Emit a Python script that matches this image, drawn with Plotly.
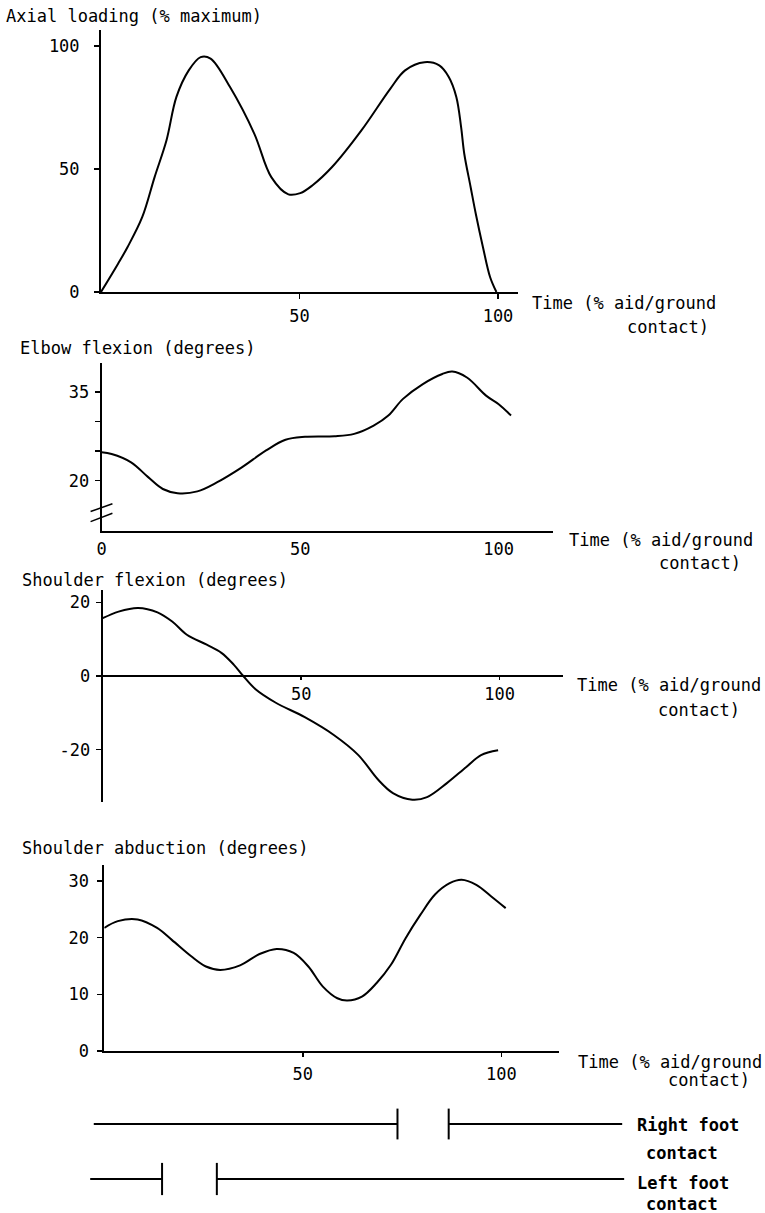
import plotly.graph_objects as go

W, H = 765, 1213

# ---------------- data ----------------
axial_t = [0, 4.3, 6.7, 10.4, 13.5, 16.5, 19, 22.1, 25.1, 27.6, 32.5, 38.6, 42.9, 47.2, 50.2,
           53.3, 58.2, 65.6, 72.9, 76.6, 81.5, 85.2, 87.6, 89.5, 90.7, 91.5, 93.1, 94.4,
           96.2, 98, 99.6]
axial_v = [0, 11.5, 18.3, 30.5, 46.7, 61.7, 79.3, 90.1, 95.5, 94.9, 83.3, 64.4, 46.7, 39.7,
           40.2, 43.4, 50.8, 65.7, 82.7, 90.1, 93.4, 92.1, 87.4, 79.3, 67.1, 56.2, 42.7, 31.8,
           18.3, 6.1, 0]

elbow_t = [0, 2.5, 7.4, 11.7, 15.4, 19.1, 24.1, 29, 35.2, 41.4, 46.3, 51.2, 58.6, 63.6,
           68.5, 72.2, 75.9, 80.9, 85.8, 88.3, 92, 96.9, 100, 103.1]
elbow_v = [24.8, 24.5, 23.1, 20.6, 18.6, 17.9, 18.2, 19.7, 22.2, 25.1, 26.9, 27.4, 27.5, 27.9,
           29.3, 31, 33.8, 36.3, 38, 38.4, 37.4, 34.3, 32.9, 31]

sflex_t = [0, 4, 8.9, 13.8, 17.5, 21.2, 26.2, 29.9, 33, 35.4, 38.5, 43.5, 50.9, 58.3,
           64.4, 69.4, 73.1, 78, 81.7, 86.7, 91.6, 95.3, 99.6]
sflex_v = [15.7, 17.5, 18.5, 17.3, 14.8, 11.2, 8.5, 6.3, 3.1, 0, -3.6, -7.2, -11.2, -16.1,
           -21.5, -28.2, -31.8, -33.6, -32.9, -29.1, -24.7, -21.5, -20.2]

sabd_t = [0, 3.4, 8.4, 13.3, 17, 21.9, 25.6, 29.2, 34.2, 39.1, 43.4, 47.7, 51.4, 55,
          58.7, 61.2, 64.9, 68.6, 72.2, 75.9, 79.6, 83.3, 87, 90, 93.7, 97.4, 101.1]
sabd_v = [21.7, 22.9, 23.2, 21.7, 19.6, 16.7, 14.9, 14.3, 15.1, 17.1, 18, 17.3, 14.9, 11.4,
          9.3, 8.9, 9.6, 12, 15.2, 19.9, 24, 27.6, 29.6, 30.2, 29.3, 27.3, 25.2]

right_start = [-2.4, 87.0]
right_end = [74.1, 130.7]
left_start = [-3.3, 28.6]
left_end = [14.8, 131.2]

axial_ticks = [0, 50, 100]
elbow_ticks = [20, 25, 30, 35]
elbow_ticktext = ["20", "", "", "35"]
sflex_ticks = [-20, 0, 20]
sflex_ticktext = ["-20", "0", "20"]
sabd_ticks = [0, 10, 20, 30]
time_ticks_a = [50, 100]
time_ticks_b = [0, 50, 100]

# ---------------- layout helpers ----------------
K = 3.97  # px per time unit
FONT = "DejaVu Sans Mono"


def fx(p):
    return p / W


def fy(p):
    return 1 - p / H


def xdom(o, e):
    return [fx(o), fx(e)]


def ydom(top, bottom):
    return [fy(bottom), fy(top)]


fig = go.Figure()

line_style = dict(color="black", width=2)
fig.add_trace(go.Scatter(x=axial_t, y=axial_v, mode="lines", line=line_style,
                         line_shape="spline", xaxis="x", yaxis="y"))
fig.add_trace(go.Scatter(x=elbow_t, y=elbow_v, mode="lines", line=line_style,
                         line_shape="spline", xaxis="x2", yaxis="y2"))
fig.add_trace(go.Scatter(x=sflex_t, y=sflex_v, mode="lines", line=line_style,
                         line_shape="spline", xaxis="x3", yaxis="y3"))
fig.add_trace(go.Scatter(x=sabd_t, y=sabd_v, mode="lines", line=line_style,
                         line_shape="spline", xaxis="x4", yaxis="y4"))


def seg(starts, ends, yv):
    xs, ys = [], []
    for s, e in zip(starts, ends):
        xs += [s, e, None]
        ys += [yv, yv, None]
    return xs, ys


rx, ry = seg(right_start, right_end, 1)
lx, ly = seg(left_start, left_end, 0)
fig.add_trace(go.Scatter(x=rx, y=ry, mode="lines", line=line_style, xaxis="x5", yaxis="y5"))
fig.add_trace(go.Scatter(x=lx, y=ly, mode="lines", line=line_style, xaxis="x5", yaxis="y5"))
fig.add_trace(go.Scatter(x=[right_end[0], right_start[1]], y=[1, 1], mode="markers",
                         marker=dict(symbol="line-ns", size=22,
                                     line=dict(color="black", width=2)),
                         xaxis="x5", yaxis="y5"))
fig.add_trace(go.Scatter(x=[left_end[0], left_start[1]], y=[0, 0], mode="markers",
                         marker=dict(symbol="line-ns", size=23,
                                     line=dict(color="black", width=2)),
                         xaxis="x5", yaxis="y5"))

tickfont = dict(family=FONT, size=17, color="black")
common_ax = dict(showline=True, linecolor="black", linewidth=2, showgrid=False,
                 zeroline=False, ticks="outside", tickcolor="black", tickwidth=1.5,
                 tickfont=tickfont, fixedrange=True, automargin=False)

# panel 1
p1 = dict(o=101, e=518, top=30, bottom=292)
fig.update_layout(
    xaxis=dict(domain=xdom(p1["o"], p1["e"]), range=[0, (p1["e"] - p1["o"]) / K],
               anchor="y", tickvals=time_ticks_a, ticklen=5, ticklabelstandoff=3, **common_ax),
    yaxis=dict(domain=ydom(p1["top"], p1["bottom"]), range=[0, (p1["bottom"] - p1["top"]) / 2.46],
               anchor="x", tickvals=axial_ticks, ticklen=5, ticklabelstandoff=11, **common_ax),
)

# panel 2
p2 = dict(o=101.7, e=553, top=363, bottom=530.7)
E_SCALE = 5.93
e_bottom = 20 - (p2["bottom"] - 480.7) / E_SCALE
e_top = 20 + (480.7 - p2["top"]) / E_SCALE
fig.update_layout(
    xaxis2=dict(domain=xdom(p2["o"], p2["e"]), range=[0, (p2["e"] - p2["o"]) / K],
                anchor="y2", tickvals=time_ticks_b, ticklen=0, ticklabelstandoff=2, **common_ax),
    yaxis2=dict(domain=ydom(p2["top"], p2["bottom"]), range=[e_bottom, e_top],
                anchor="x2", tickvals=elbow_ticks, ticktext=elbow_ticktext, ticklen=5,
                ticklabelstandoff=2, **common_ax),
)

# panel 3
p3 = dict(o=102.7, e=563, top=590, bottom=801.5, zero=676)
S_SCALE = 3.68
fig.update_layout(
    xaxis3=dict(domain=xdom(p3["o"], p3["e"]), range=[0, (p3["e"] - p3["o"]) / K],
                anchor="free", position=fy(p3["zero"]), tickvals=time_ticks_a, ticklen=3,
                ticklabelstandoff=0, **common_ax),
    yaxis3=dict(domain=ydom(p3["top"], p3["bottom"]),
                range=[-(p3["bottom"] - p3["zero"]) / S_SCALE, (p3["zero"] - p3["top"]) / S_SCALE],
                anchor="x3", tickvals=sflex_ticks, ticktext=sflex_ticktext, ticklen=5,
                ticklabelstandoff=2, **common_ax),
)

# panel 4
p4 = dict(o=104.3, e=558.5, top=865, bottom=1051)
fig.update_layout(
    xaxis4=dict(domain=xdom(p4["o"], p4["e"]), range=[0, (p4["e"] - p4["o"]) / K],
                anchor="y4", tickvals=time_ticks_a, ticklen=4, ticklabelstandoff=3, **common_ax),
    yaxis4=dict(domain=ydom(p4["top"], p4["bottom"]), range=[0, (p4["bottom"] - p4["top"]) / 5.67],
                anchor="x4", tickvals=sabd_ticks, ticklen=5, ticklabelstandoff=5, **common_ax),
)

# foot contact axes (hidden), same time scale as panel 4
f_top, f_bottom = 1100, 1200
y_right, y_left = 1124, 1179
pu = (y_left - y_right)
fig.update_layout(
    xaxis5=dict(domain=[0, 1], range=[-(p4["o"] - 1) / K, (W - p4["o"] + 1) / K], anchor="y5",
                visible=False, fixedrange=True, automargin=False),
    yaxis5=dict(domain=ydom(f_top, f_bottom),
                range=[-(f_bottom - y_left) / pu, 1 + (y_right - f_top) / pu],
                anchor="x5", visible=False, fixedrange=True, automargin=False),
)


# axis break marks on elbow panel (decoration)
def p2_paper(tx, vy):
    px = p2["o"] + tx * K
    py = 480.7 - (vy - 20) * E_SCALE
    return fx(px), fy(py)


shapes = []
for (a, b) in [((-2.8, 14.8), (2.7, 16.1)), ((-2.8, 13.1), (2.7, 14.5))]:
    x0, y0 = p2_paper(*a)
    x1, y1 = p2_paper(*b)
    shapes.append(dict(type="line", xref="paper", yref="paper", x0=x0, y0=y0, x1=x1, y1=y1,
                       line=dict(color="black", width=1.5)))

anns = []
label_font = dict(family=FONT, size=17, color="black")
PADX = 1


def add_text(text, px, py, font=label_font):
    anns.append(dict(text=text, x=fx(px - PADX), y=fy(py), xref="paper", yref="paper",
                     xanchor="left", yanchor="middle", showarrow=False, font=font,
                     borderpad=0))


add_text("Axial loading (% maximum)", 6, 16)
add_text("Elbow flexion (degrees)", 20, 348)
add_text("Shoulder flexion (degrees)", 22, 580)
add_text("Shoulder abduction (degrees)", 22, 848)

for (tx, ty, cx, cy) in [(532, 303, 627, 327), (569, 540, 659, 563),
                         (577, 685, 658, 710), (578, 1062, 668, 1080)]:
    add_text("Time (% aid/ground", tx, ty)
    add_text("contact)", cx, cy)

add_text("<b>Right foot</b>", 637, 1125)
add_text("<b>contact</b>", 646, 1153)
add_text("<b>Left foot</b>", 637, 1183)
add_text("<b>contact</b>", 646, 1204)

fig.update_layout(
    template="none",
    width=W, height=H, autosize=False,
    margin=dict(l=0, r=0, t=0, b=0, pad=0),
    paper_bgcolor="white", plot_bgcolor="white",
    showlegend=False, hovermode=False,
    shapes=shapes, annotations=anns,
    font=dict(family=FONT, color="black"),
)

fig.write_html("out.html", config={"displayModeBar": False, "staticPlot": True},
               post_script="document.body.style.margin='0';document.body.style.overflow='hidden';")
